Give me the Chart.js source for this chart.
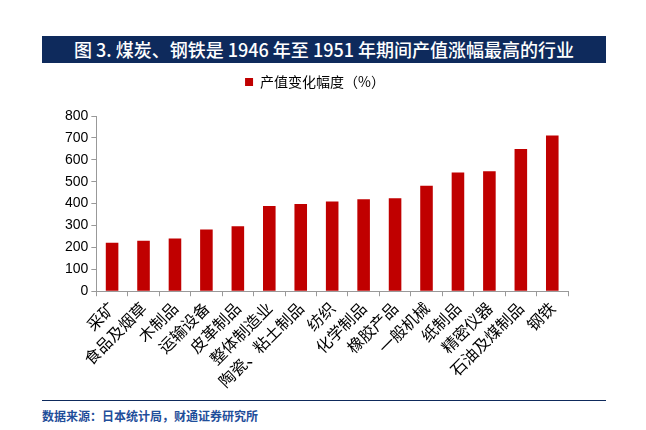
<!DOCTYPE html>
<html><head><meta charset="utf-8">
<script src="https://cdn.jsdelivr.net/npm/chart.js"></script>
<style>
body{margin:0;background:#fff;font-family:"Noto Sans CJK SC",sans-serif;}
#wrap{position:relative;width:646px;height:430px;}
#title{position:absolute;left:42px;top:36px;width:564px;height:27px;background:#0e2a5c;color:#fff;font-size:18px;font-weight:500;text-align:center;line-height:27px;}
#box{position:absolute;left:42px;top:63px;width:564px;height:337px;}
#foot{position:absolute;left:42px;top:400px;width:564px;border-top:1px solid #0e2a5c;color:#1f4e9a;font-size:12px;font-weight:bold;padding-top:6px;}
</style></head><body>
<div id="wrap">
<div id="title">图 3. 煤炭、钢铁是 1946 年至 1951 年期间产值涨幅最高的行业</div>
<div id="box"><canvas id="c" width="564" height="337"></canvas></div>
<div id="foot">数据来源：日本统计局，财通证券研究所</div>
</div>
<script>
const categories = ["采矿","食品及烟草","木制品","运输设备","皮革制品","整体制造业","陶瓷、粘土制品","纺织","化学制品","橡胶产品","一般机械","纸制品","精密仪器","石油及煤制品","钢铁"];
const values = [221,230,241,282,297,389,398,410,420,425,482,542,548,649,711];
const seriesName = "产值变化幅度（%）";

const legendGap = {
  id: "legendGap",
  beforeInit(chart) {
    const fit = chart.legend.fit;
    chart.legend.fit = function () { fit.call(this); this.height += 17; };
  }
};

new Chart(document.getElementById("c"), {
  type: "bar",
  data: {
    labels: categories,
    datasets: [{ label: seriesName, data: values, backgroundColor: "#c00000", barPercentage: 0.4, categoryPercentage: 1 }]
  },
  options: {
    responsive: false, animation: false,
    layout: { padding: { left: 20, right: 38, top: 4, bottom: 7 } },
    plugins: {
      legend: { labels: { boxWidth: 8, boxHeight: 8, color: "#000", padding: 8, font: { size: 14, family: "Noto Sans CJK SC" } } }
    },
    scales: {
      x: {
        grid: { display: true, drawOnChartArea: false, drawTicks: true, tickLength: 5, color: "#999", offset: true },
        border: { color: "#999" },
        ticks: { maxRotation: 45, minRotation: 45, color: "#000", padding: 2, font: { size: 16, family: "Noto Sans CJK SC" } }
      },
      y: {
        min: 0, max: 800,
        ticks: { stepSize: 100, color: "#000", font: { size: 14, family: "Liberation Sans" } },
        grid: { display: true, drawOnChartArea: false, tickLength: 5, color: "#999" },
        border: { color: "#999" }
      }
    }
  },
  plugins: [legendGap]
});
</script>
</body></html>
